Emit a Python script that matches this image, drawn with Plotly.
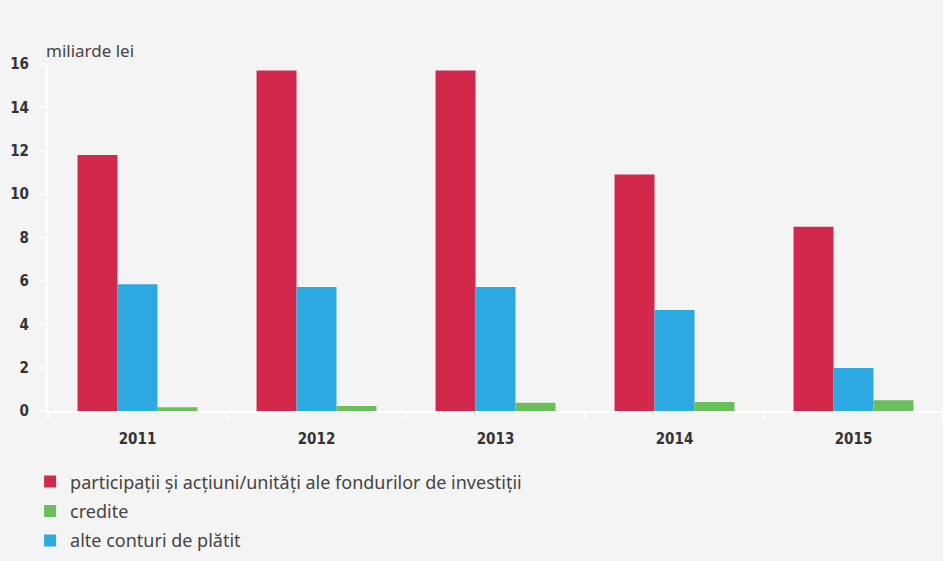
import plotly.graph_objects as go

years = ["2011", "2012", "2013", "2014", "2015"]
participatii = [11.8, 15.7, 15.7, 10.9, 8.5]
alte_conturi = [5.85, 5.72, 5.72, 4.66, 1.98]
credite = [0.17, 0.23, 0.38, 0.42, 0.49]

name_part = "participații și acțiuni/unități ale fondurilor de investiții"
name_cred = "credite"
name_alte = "alte conturi de plătit"

tick_font = dict(
    family="DejaVu Sans Condensed, Liberation Sans Narrow, sans-serif",
    size=15,
    weight=600,
    color="#333333"
)

fig = go.Figure()

fig.add_trace(go.Bar(
    x=years, y=participatii, name=name_part,
    marker=dict(color="#D1284C", line=dict(width=0)),
    legendrank=1, legendgroup="a"
))
fig.add_trace(go.Bar(
    x=years, y=alte_conturi, name=name_alte,
    marker=dict(color="#2DA9E1", line=dict(width=0)),
    legendrank=3, legendgroup="c"
))
fig.add_trace(go.Bar(
    x=years, y=credite, name=name_cred,
    marker=dict(color="#6ABF5B", line=dict(width=0)),
    legendrank=2, legendgroup="b"
))

fig.update_layout(
    width=943,
    height=561,
    barmode="group",
    bargap=0.33,
    bargroupgap=0,
    paper_bgcolor="#F4F4F4",
    plot_bgcolor="#F4F4F4",
    margin=dict(l=48, r=0, t=64, b=150, autoexpand=False),
    font=dict(family="Noto Sans, sans-serif", color="#444444"),
    showlegend=True,
    legend=dict(
        orientation="v",
        x=-0.02, xref="paper", xanchor="left",
        y=0.174, yref="container", yanchor="top",
        bgcolor="rgba(0,0,0,0)",
        font=dict(family="Noto Sans, sans-serif", size=18, color="#444444"),
        traceorder="grouped",
        tracegroupgap=3,
        itemclick=False
    ),
    xaxis=dict(
        showline=True, linecolor="white", linewidth=2,
        ticks="outside", tickson="boundaries", ticklen=6,
        tickcolor="white", tickwidth=2,
        tickfont=tick_font,
        ticklabelstandoff=13,
        showgrid=False
    ),
    yaxis=dict(
        range=[0, 16],
        dtick=2,
        showline=True, linecolor="white", linewidth=2,
        ticks="outside", ticklen=6, tickcolor="white", tickwidth=2,
        tickfont=tick_font,
        ticklabelstandoff=8,
        showgrid=False,
        zeroline=False
    ),
    annotations=[
        dict(
            text="miliarde lei",
            xref="paper", yref="paper",
            x=0, y=1.0,
            xanchor="left", yanchor="bottom",
            xshift=-4, yshift=0,
            showarrow=False,
            font=dict(family="Noto Sans, sans-serif", size=17, color="#444444")
        )
    ]
)

fig.write_html(
    "out.html",
    config={"displayModeBar": False},
    post_script="document.body.style.margin='0';"
)
